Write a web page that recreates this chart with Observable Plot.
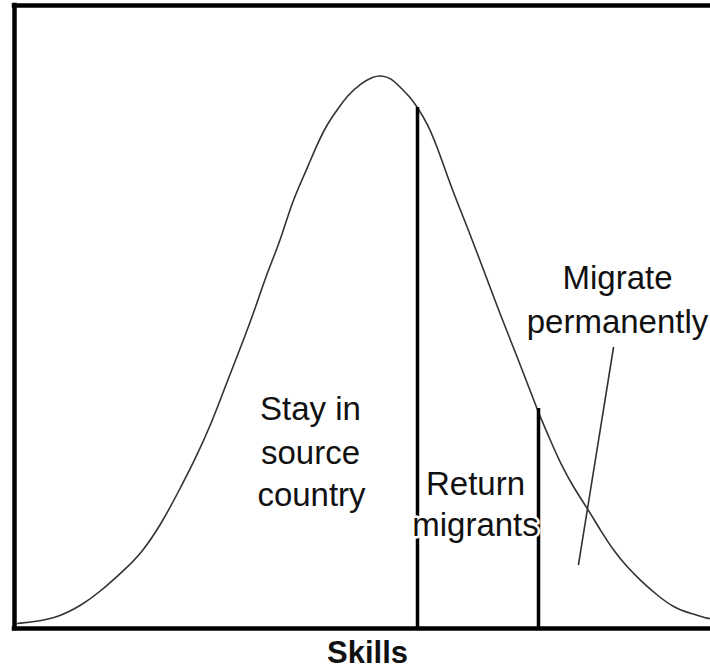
<!DOCTYPE html>
<html>
<head>
<meta charset="utf-8">
<script src="https://cdn.jsdelivr.net/npm/d3@7"></script>
<script src="https://cdn.jsdelivr.net/npm/@observablehq/plot@0.6"></script>
<style>
  html, body { margin: 0; padding: 0; background: #fff; }
  #chart svg { display: block; }
</style>
</head>
<body>
<div id="chart"></div>
<script>
// Skill distribution curve (x = skill, y = density, arbitrary units)
const curveSkill = [3, 21, 43, 67, 87, 107, 127, 147, 163, 180, 197, 213, 230, 241, 251, 259, 268, 276, 284, 293, 303, 313, 323, 333, 346, 359, 366, 376, 386, 396, 403, 413, 423, 436, 453, 469, 486, 503, 519, 526, 536, 546, 559, 573, 586, 599, 613, 626, 643, 659, 676, 693, 696];
const curveDensity = [5, 7, 11, 23, 38, 56, 75, 105, 135, 168, 205, 248, 291, 321, 351, 371, 395, 421, 441, 461, 485, 505, 519, 533, 545, 552, 553, 551, 541, 531, 521, 505, 481, 443, 401, 359, 313, 271, 229, 211, 188, 165, 141, 120, 98, 78, 61, 48, 33, 21, 15, 10, 10];

// Skill thresholds (vertical lines) and the curve height at each
const cutoffSkill = [403, 524];
const cutoffDensity = [521, 220];

// Region labels
const labelText = ["Stay in", "source", "country", "Return", "migrants", "Migrate", "permanently"];
const labelSkill = [296, 296, 297, 461, 461, 603, 603];
const labelDensity = [219, 175, 133, 144, 103, 350, 306];

// Leader line from "Migrate permanently" into the right tail
const leaderSkill = [599, 564];
const leaderDensity = [281, 64];

const axisTitle = "Skills";
const axisTitleSkill = 353;
const axisTitleDensity = -25;

const curve = curveSkill.map((x, i) => ({x, y: curveDensity[i]}));
const cutoffs = cutoffSkill.map((x, i) => ({x, y: cutoffDensity[i]}));
const labels = labelText.map((t, i) => ({t, x: labelSkill[i], y: labelDensity[i]}));
const leader = leaderSkill.map((x, i) => ({x, y: leaderDensity[i]}));

const chart = Plot.plot({
  width: 710,
  height: 670,
  marginLeft: 14,
  marginRight: 0,
  marginTop: 5,
  marginBottom: 42,
  x: {domain: [0, 696], axis: null},
  y: {domain: [0, 623], axis: null},
  style: {fontFamily: "'Liberation Sans', Arial, sans-serif", background: "#fff", color: "#000"},
  marks: [
    Plot.line(curve, {x: "x", y: "y", curve: "basis", stroke: "#333", strokeWidth: 1.6}),
    Plot.ruleX(cutoffs, {x: "x", y1: 0, y2: "y", stroke: "#000", strokeWidth: 3.5}),
    Plot.line(leader, {x: "x", y: "y", stroke: "#333", strokeWidth: 1.6}),
    Plot.ruleX([0], {stroke: "#000", strokeWidth: 4.5, strokeLinecap: "square"}),
    Plot.ruleY([0, 623], {stroke: "#000", strokeWidth: 4.5, strokeLinecap: "square"}),
    Plot.text(labels, {x: "x", y: "y", text: "t", fontSize: 33, fill: "#111", stroke: "#fff", strokeWidth: 5}),
    Plot.text([axisTitle], {x: () => axisTitleSkill, y: () => axisTitleDensity, text: d => d, fontSize: 31, fontWeight: "bold", fill: "#111"})
  ]
});
document.getElementById("chart").append(chart);
</script>
</body>
</html>
